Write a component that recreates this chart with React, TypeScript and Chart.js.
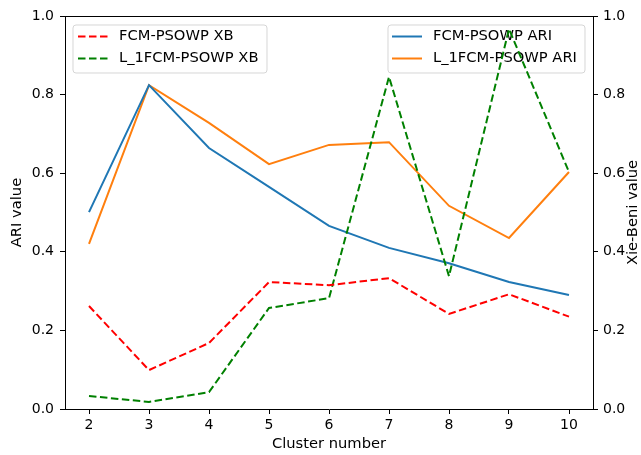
import React, { useEffect, useRef } from "react";
import { Chart, registerables } from "chart.js";

Chart.register(...registerables);

const clusters = [2, 3, 4, 5, 6, 7, 8, 9, 10];
const fcmAri = [0.501, 0.824, 0.664, 0.565, 0.466, 0.41, 0.371, 0.323, 0.29];
const l1Ari = [0.42, 0.824, 0.728, 0.623, 0.672, 0.679, 0.517, 0.435, 0.603];
const fcmXb = [0.262, 0.099, 0.168, 0.323, 0.315, 0.333, 0.242, 0.292, 0.235];
const l1Xb = [0.033, 0.018, 0.043, 0.257, 0.282, 0.845, 0.338, 0.967, 0.603];
const yTicks = [0, 0.2, 0.4, 0.6, 0.8, 1.0];
const rightTitle = "Xie-Beni value";

const FONT = "'DejaVu Sans', sans-serif";

function drawLegend(ctx: CanvasRenderingContext2D, chart: any, idxs: number[], box: { x: number; y: number; w: number; h: number }, lineX: number, textX: number) {
  ctx.save();
  const r = 3;
  ctx.beginPath();
  ctx.moveTo(box.x + r, box.y);
  ctx.lineTo(box.x + box.w - r, box.y);
  ctx.quadraticCurveTo(box.x + box.w, box.y, box.x + box.w, box.y + r);
  ctx.lineTo(box.x + box.w, box.y + box.h - r);
  ctx.quadraticCurveTo(box.x + box.w, box.y + box.h, box.x + box.w - r, box.y + box.h);
  ctx.lineTo(box.x + r, box.y + box.h);
  ctx.quadraticCurveTo(box.x, box.y + box.h, box.x, box.y + box.h - r);
  ctx.lineTo(box.x, box.y + r);
  ctx.quadraticCurveTo(box.x, box.y, box.x + r, box.y);
  ctx.closePath();
  ctx.fillStyle = "rgba(255,255,255,0.8)";
  ctx.fill();
  ctx.strokeStyle = "rgba(204,204,204,0.8)";
  ctx.lineWidth = 1;
  ctx.stroke();
  idxs.forEach((di, k) => {
    const ds = chart.data.datasets[di];
    const cy = box.y + 11.5 + k * 22;
    ctx.beginPath();
    ctx.setLineDash(ds.borderDash || []);
    ctx.strokeStyle = ds.borderColor;
    ctx.lineWidth = ds.borderWidth;
    ctx.moveTo(lineX, cy);
    ctx.lineTo(lineX + 30, cy);
    ctx.stroke();
    ctx.setLineDash([]);
    ctx.fillStyle = "#000";
    ctx.font = `14.7px ${FONT}`;
    ctx.textBaseline = "middle";
    ctx.textAlign = "left";
    ctx.fillText(ds.label, textX, cy);
  });
  ctx.restore();
}

const legendPlugin = {
  id: "dualLegend",
  afterDatasetDraw(chart: any, args: any) {
    if (args.index === 2) {
      drawLegend(chart.ctx, chart, [2, 3], { x: 388, y: 25, w: 197, h: 48 }, 392, 433);
    }
  },
  afterDatasetsDraw(chart: any) {
    drawLegend(chart.ctx, chart, [0, 1], { x: 73, y: 25, w: 194, h: 48 }, 78, 119);
    const a = chart.chartArea;
    const ctx = chart.ctx;
    ctx.save();
    ctx.strokeStyle = "#000";
    ctx.lineWidth = 1;
    ctx.beginPath();
    ctx.moveTo(a.left, a.top + 0.5);
    ctx.lineTo(a.right, a.top + 0.5);
    ctx.stroke();
    ctx.translate(633, (a.top + a.bottom) / 2);
    ctx.rotate(-Math.PI / 2);
    ctx.fillStyle = "#000";
    ctx.font = `14.7px ${FONT}`;
    ctx.textAlign = "center";
    ctx.textBaseline = "middle";
    ctx.fillText(rightTitle, 0, 0);
    ctx.restore();
  },
};

export default function App() {
  const ref = useRef<HTMLCanvasElement | null>(null);
  useEffect(() => {
    if (!ref.current) return;
    const pts = (arr: number[]) => clusters.map((c, i) => ({ x: c, y: arr[i] }));
    const chart = new Chart(ref.current, {
      type: "line",
      data: {
        datasets: [
          { label: "FCM-PSOWP XB", data: pts(fcmXb), yAxisID: "y1", borderColor: "#ff0000", borderWidth: 2, borderDash: [7.5, 3.5], pointRadius: 0, fill: false, order: 1 },
          { label: "L_1FCM-PSOWP XB", data: pts(l1Xb), yAxisID: "y1", borderColor: "#008000", borderWidth: 2, borderDash: [7.5, 3.5], pointRadius: 0, fill: false, order: 1 },
          { label: "FCM-PSOWP ARI", data: pts(fcmAri), yAxisID: "y", borderColor: "#1f77b4", borderWidth: 2, pointRadius: 0, fill: false, order: 2 },
          { label: "L_1FCM-PSOWP ARI", data: pts(l1Ari), yAxisID: "y", borderColor: "#ff7f0e", borderWidth: 2, pointRadius: 0, fill: false, order: 2 },
        ],
      },
      options: {
        responsive: false,
        animation: false,
        layout: { padding: { top: 16, left: 0, right: 0, bottom: 0 } },
        plugins: { legend: { display: false }, tooltip: { enabled: false } },
        scales: {
          x: {
            type: "linear",
            min: 1.6,
            max: 10.4,
            afterBuildTicks: (s: any) => { s.ticks = clusters.map((v) => ({ value: v })); },
            afterFit: (s: any) => { s.height = 46; },
            ticks: { color: "#000", font: { family: FONT, size: 14 }, padding: 3, callback: (v: any) => String(v), maxRotation: 0, autoSkip: false },
            grid: { drawOnChartArea: false, drawTicks: true, tickLength: 5, color: "#000" },
            border: { color: "#000", width: 1 },
            title: { display: true, text: "Cluster number", color: "#000", font: { family: FONT, size: 14.7 }, padding: { top: 0, bottom: 2 } },
          },
          y: {
            position: "left",
            min: 0,
            max: 1,
            afterBuildTicks: (s: any) => { s.ticks = yTicks.map((v) => ({ value: v })); },
            afterFit: (s: any) => { s.width = 65; },
            ticks: { color: "#000", font: { family: FONT, size: 14 }, padding: 6, callback: (v: any) => Number(v).toFixed(1) },
            grid: { drawOnChartArea: false, drawTicks: true, tickLength: 5, color: "#000" },
            border: { color: "#000", width: 1 },
            title: { display: true, text: "ARI value", color: "#000", font: { family: FONT, size: 14.7 }, padding: { top: 8.5, bottom: 0 } },
          },
          y1: {
            position: "right",
            min: 0,
            max: 1,
            afterBuildTicks: (s: any) => { s.ticks = yTicks.map((v) => ({ value: v })); },
            afterFit: (s: any) => { s.width = 48; },
            ticks: { color: "#000", font: { family: FONT, size: 14 }, padding: 5, callback: (v: any) => Number(v).toFixed(1) },
            grid: { drawOnChartArea: false, drawTicks: true, tickLength: 5, color: "#000" },
            border: { color: "#000", width: 1 },
            title: { display: false },
          },
        },
      },
      plugins: [legendPlugin],
    } as any);
    return () => chart.destroy();
  }, []);
  return (
    <div style={{ position: "fixed", left: 0, top: 0, width: 641, height: 455, background: "#fff" }}>
      <canvas ref={ref} width={641} height={455} />
    </div>
  );
}
